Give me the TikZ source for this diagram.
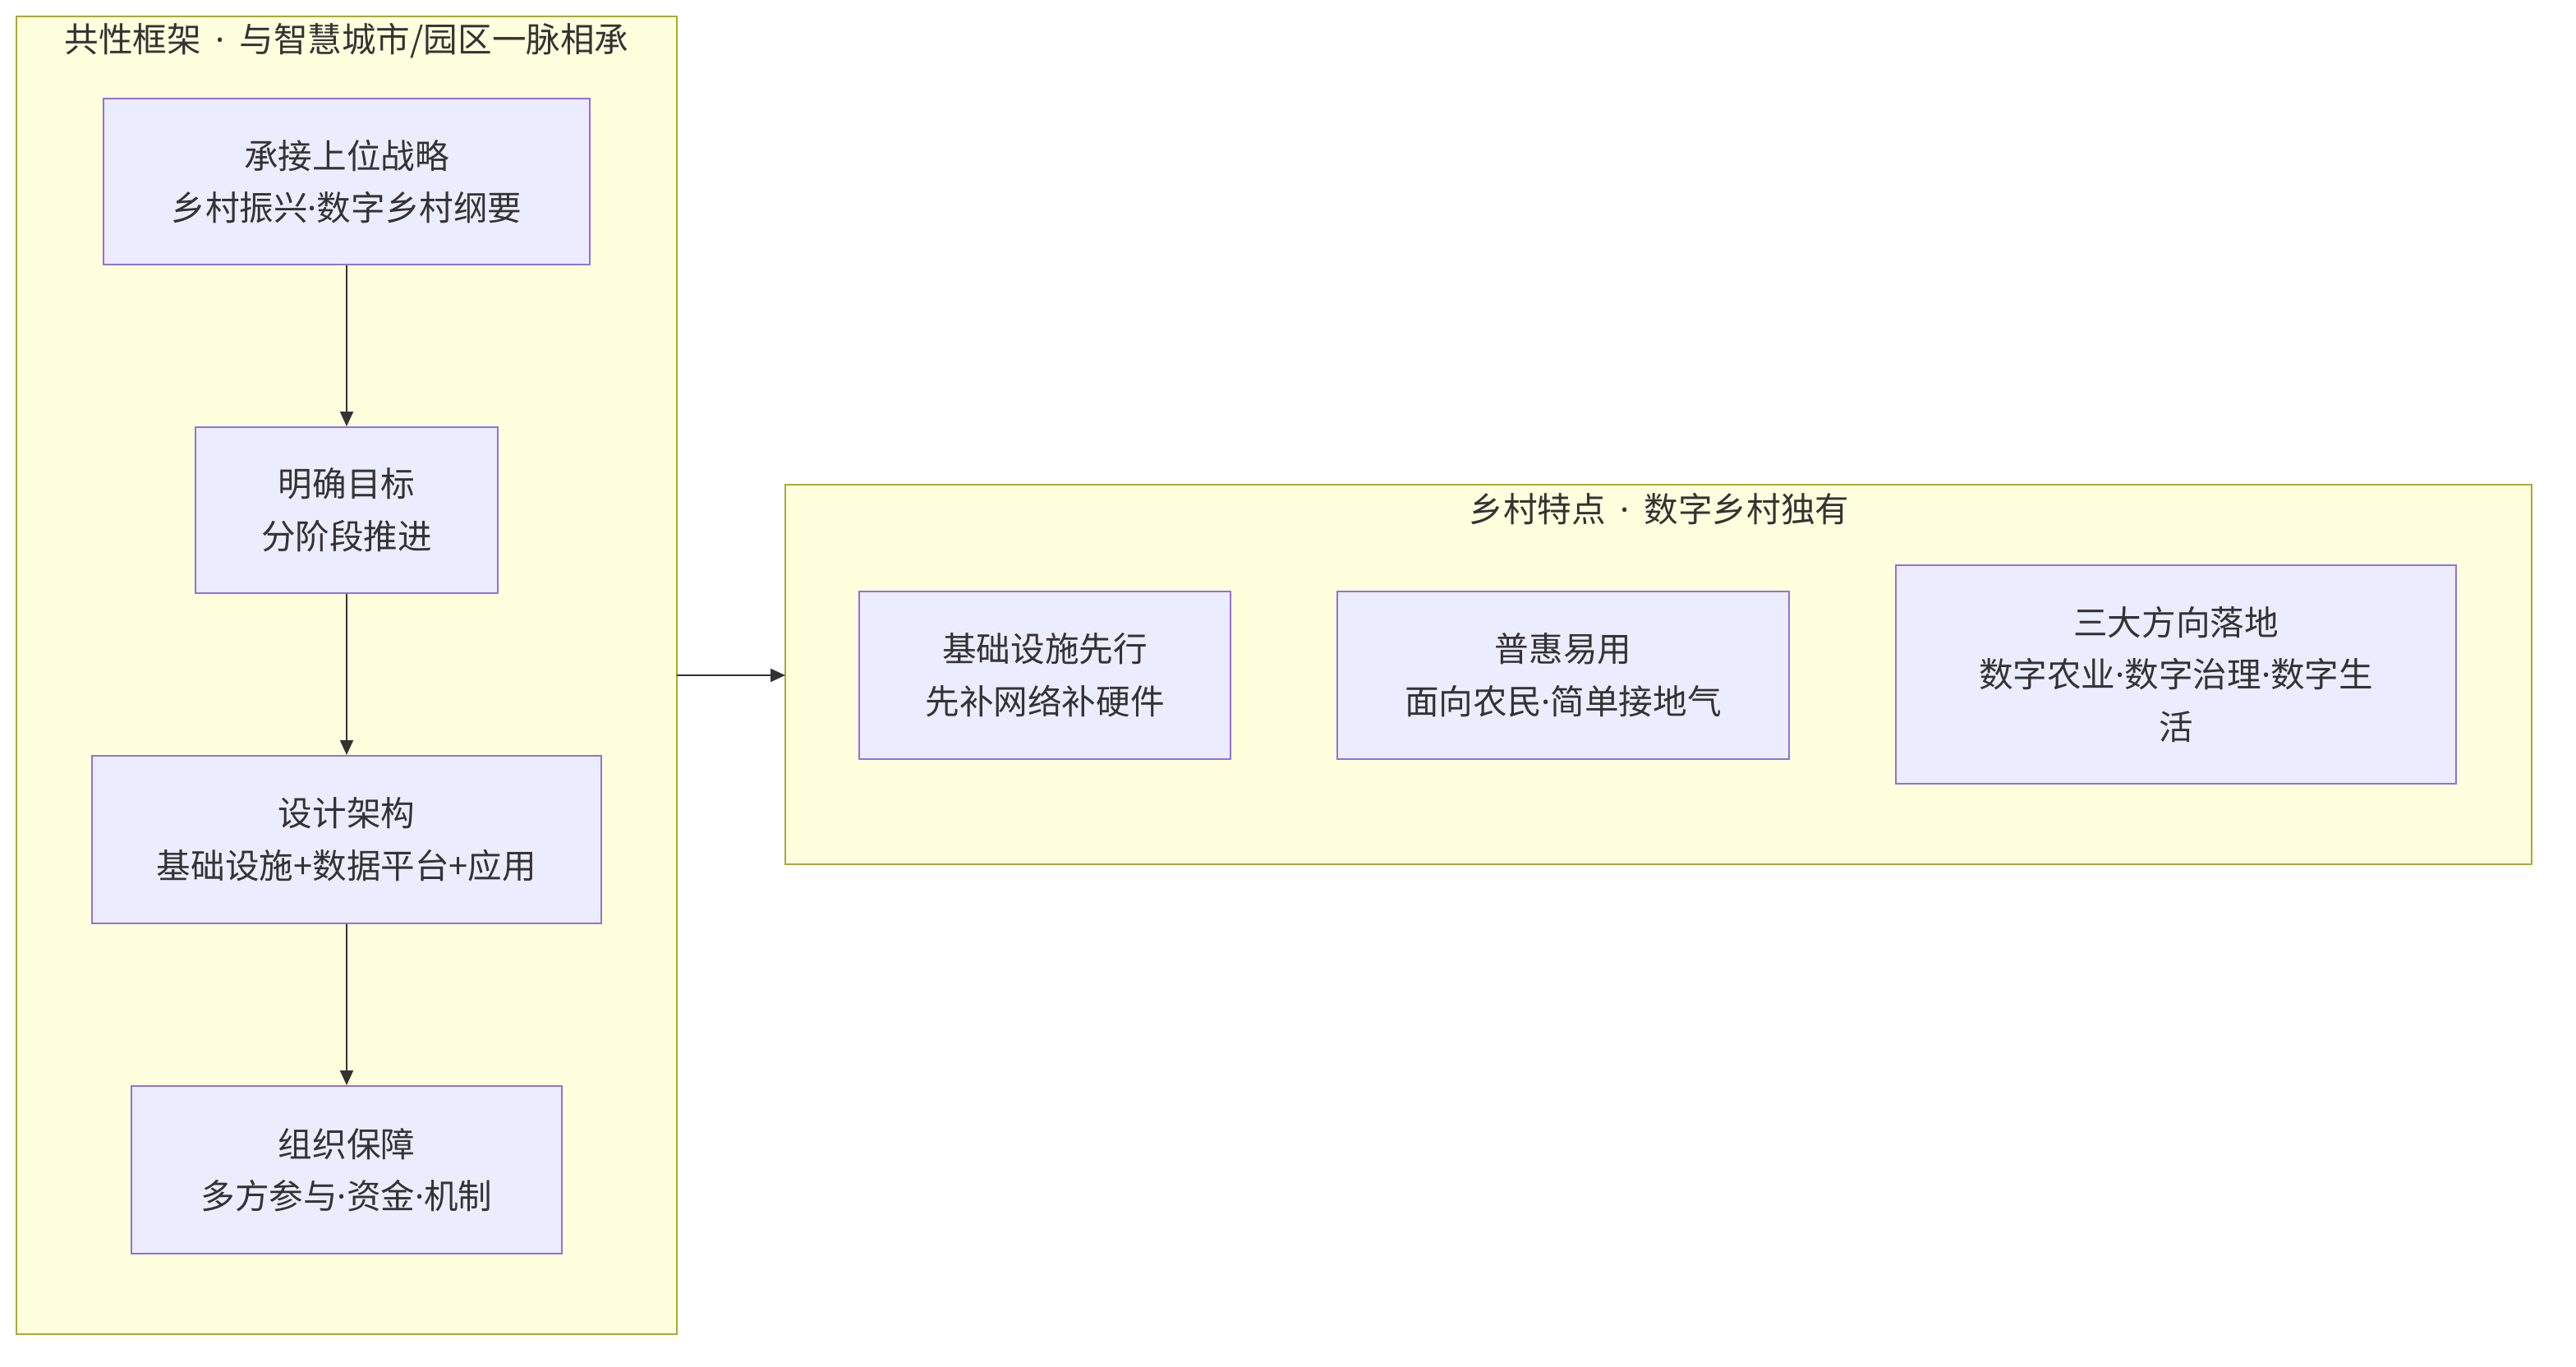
\documentclass[tikz,border=0pt]{standalone}
\usepackage{fontspec}
\setmainfont{Noto Sans CJK SC}
\newfontfamily\latfont{Noto Sans}
\newcommand{\md}{{\latfont ·}}
\usetikzlibrary{arrows.meta}
\definecolor{clfill}{HTML}{FFFFDE}
\definecolor{clline}{HTML}{AAAA33}
\definecolor{ndfill}{HTML}{ECECFF}
\definecolor{ndline}{HTML}{9370DB}
\definecolor{txt}{HTML}{333333}
\begin{document}
\begin{tikzpicture}[x=1pt,y=-1pt,
  cluster/.style={draw=clline,fill=clfill,line width=1pt},
  box/.style={draw=ndline,fill=ndfill,line width=1pt,inner sep=0pt,align=center,text=txt,
    font=\fontsize{20.8}{31.8}\selectfont},
  ttl/.style={text=txt,font=\fontsize{20.8}{24}\selectfont,inner sep=0pt},
  conn/.style={draw=txt,line width=1pt,-{Triangle[length=9pt,width=8pt]}}]
\useasboundingbox (0,0) rectangle (1568,832);
\fill[white] (0,0) rectangle (1568,832);
% clusters
\draw[cluster] (10,10) rectangle (412,812);
\coordinate (Lr) at (412,411);
\node[ttl] (lt) at (211,25) {共性框架{\latfont\ \,·\, }与智慧城市/园区一脉相承};
\draw[cluster] (478,295) rectangle (1541,526);
\coordinate (Rl) at (478,411);
\node[ttl] (rt) at (1010,310) {乡村特点{\latfont\ \,·\, }数字乡村独有};
% left nodes
\node[box,minimum width=296pt,minimum height=101pt] (A) at (211,110.5) {承接上位战略\\乡村振兴\md 数字乡村纲要};
\node[box,minimum width=184pt,minimum height=101pt] (B) at (211,310.5) {明确目标\\分阶段推进};
\node[box,minimum width=310pt,minimum height=102pt] (C) at (211,511) {设计架构\\基础设施+数据平台+应用};
\node[box,minimum width=262pt,minimum height=102pt] (D) at (211,712) {组织保障\\多方参与\md 资金\md 机制};
% right nodes
\node[box,minimum width=226pt,minimum height=102pt] (E) at (636,411) {基础设施先行\\先补网络补硬件};
\node[box,minimum width=275pt,minimum height=102pt] (F) at (951.5,411) {普惠易用\\面向农民\md 简单接地气};
\node[box,minimum width=341pt,minimum height=133pt] (G) at (1324.5,410.5) {三大方向落地\\数字农业\md 数字治理\md 数字生\\活};
% connectors
\draw[conn] (A.south) -- (B.north);
\draw[conn] (B.south) -- (C.north);
\draw[conn] (C.south) -- (D.north);
\draw[conn] (Lr) -- (Rl);
\end{tikzpicture}
\end{document}
